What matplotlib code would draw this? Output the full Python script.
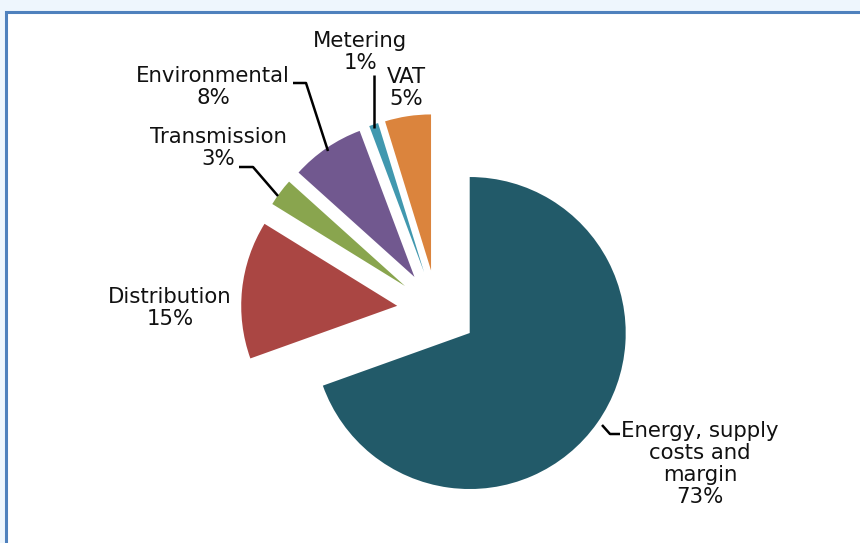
import matplotlib
matplotlib.use("Agg")
import matplotlib.pyplot as plt
from matplotlib.patches import Rectangle

# Breakdown of a household electricity bill
categories = ["Energy, supply\ncosts and\nmargin", "Distribution", "Transmission",
              "Environmental", "Metering", "VAT"]
shares = [73, 15, 3, 8, 1, 5]
colors = ["#225A69", "#AA4643", "#89A54E", "#71588F", "#4198AF", "#DB843D"]

W, H = 860, 543
fig = plt.figure(figsize=(W / 100, H / 100), dpi=100)
fig.patch.set_facecolor("#EEF6FD")

# white chart area with a blue frame on the top and left edges
frame = Rectangle((6, -20), W + 20, H + 20 - 12, transform=None,
                  facecolor="white", edgecolor="#4F81BD", linewidth=2.2, zorder=-5)
fig.patches.append(frame)

ax = fig.add_axes([0, 0, 1, 1])
ax.set_zorder(5)
ax.set_facecolor("none")

center = (437, H - 310)
radius = 156
ax.pie(shares, colors=colors, startangle=90, counterclock=False,
       center=center, radius=radius, explode=[40] * len(shares),
       wedgeprops=dict(linewidth=0), frame=True)

ax.set_xlim(0, W)
ax.set_ylim(0, H)
ax.set_aspect("auto")
ax.axis("off")

# label positions (pixel layout, y measured from the top)
label_pos = [(700, 464), (170, 308), (218, 148), (213, 87), (360, 52), (406, 88)]
for name, val, (x, y) in zip(categories, shares, label_pos):
    ax.text(x, H - y, f"{name}\n{val}%", ha="center", va="center",
            multialignment="center", fontsize=15.3, color="#111111",
            family="DejaVu Sans", linespacing=1.13)

# leader lines from labels to slices
leaders = [
    [(602, 425), (610, 434), (620, 434)],
    [(239, 167), (253, 167), (278, 196)],
    [(293, 83), (306, 83), (328, 151)],
    [(374, 75), (374, 128)],
]
for pts in leaders:
    xs = [p[0] for p in pts]
    ys = [H - p[1] for p in pts]
    ax.plot(xs, ys, color="black", linewidth=1.8, solid_capstyle="butt")

fig.savefig("out.png", dpi=100, facecolor=fig.get_facecolor())
